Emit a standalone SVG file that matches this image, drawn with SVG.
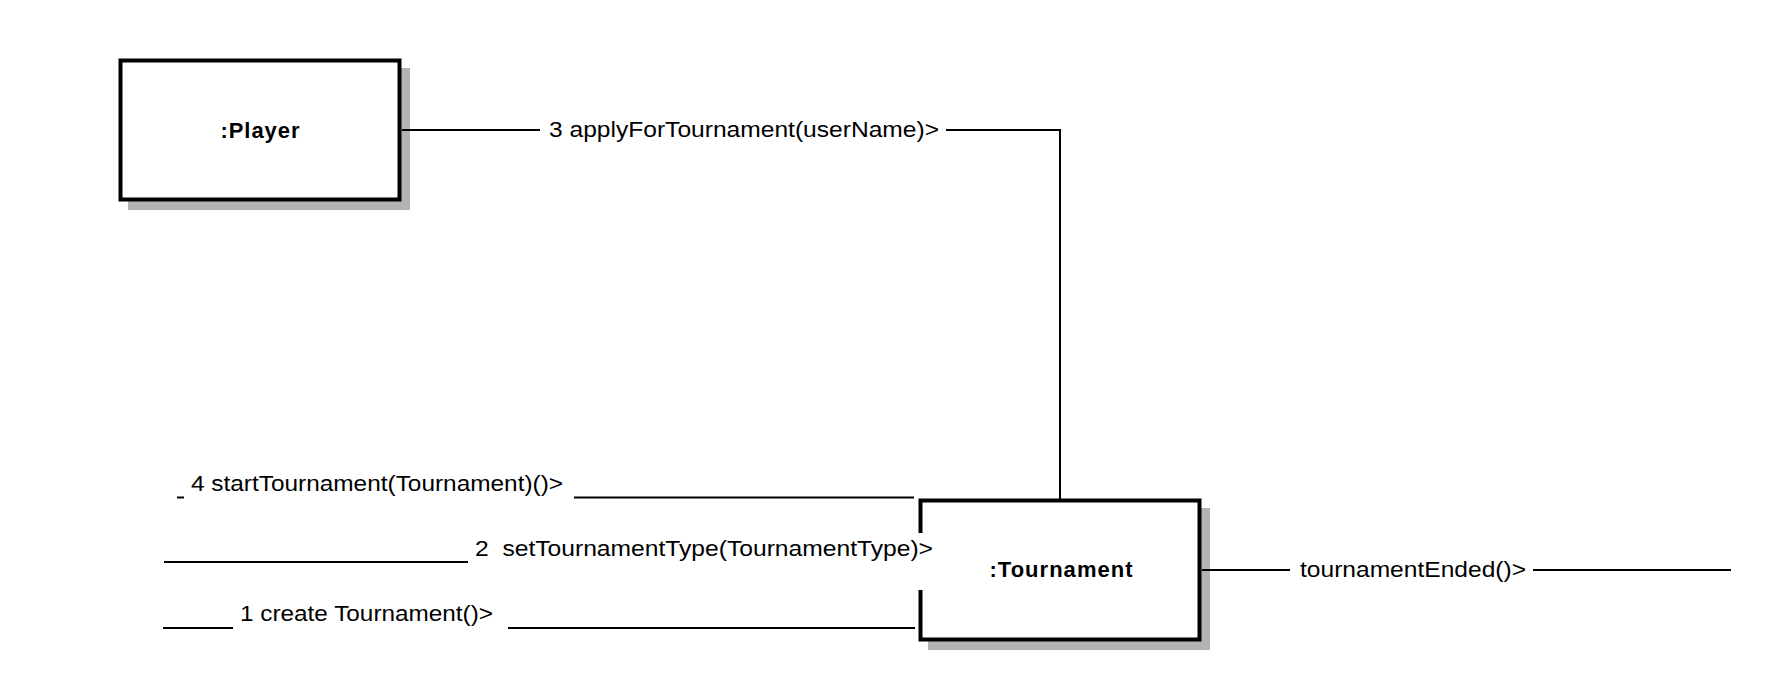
<svg xmlns="http://www.w3.org/2000/svg" width="1780" height="696" viewBox="0 0 1780 696">
<style>
.shadow{fill:#b3b3b3;stroke:none}
.box{fill:#ffffff;stroke:#000000;stroke-width:4}
.border{fill:none;stroke:#000000;stroke-width:4}
.name{font-family:"Liberation Sans",Arial,sans-serif;font-weight:bold;font-size:22px;fill:#000000;text-anchor:middle}
.lbl{font-family:"Liberation Sans",Arial,sans-serif;font-size:22px;fill:#000000}
.conn{fill:none;stroke:#000000;stroke-width:2}
</style>
<rect x="0" y="0" width="1780" height="696" fill="#ffffff"/>
<g id="player">
<rect class="shadow" x="128" y="68" width="282" height="142"/>
<rect class="box" x="120.5" y="60.5" width="279" height="139"/>
<text class="name" x="260" y="138" textLength="79" lengthAdjust="spacing">:Player</text>
</g>
<g id="tournament">
<rect class="shadow" x="928" y="508" width="282" height="142"/>
<rect x="920.5" y="500.5" width="279" height="139" fill="#ffffff"/>
<path class="border" d="M920.5,533 V500.5 H1199.5 V639.5 H920.5 V590"/>
<text class="name" x="1061" y="577" textLength="143" lengthAdjust="spacing">:Tournament</text>
</g>
<g id="connectors">
<line class="conn" x1="402" y1="130" x2="540" y2="130"/>
<polyline class="conn" points="946,130 1060,130 1060,499"/>
<text class="lbl" x="549" y="137" textLength="390" lengthAdjust="spacingAndGlyphs">3 applyForTournament(userName)&gt;</text>
<line class="conn" x1="177" y1="497.5" x2="184" y2="497.5"/>
<text class="lbl" x="191" y="491" textLength="372" lengthAdjust="spacingAndGlyphs">4 startTournament(Tournament)()&gt;</text>
<line class="conn" x1="574" y1="497.5" x2="914" y2="497.5"/>
<line class="conn" x1="164" y1="562" x2="468" y2="562"/>
<text class="lbl" x="475" y="556" textLength="458" lengthAdjust="spacingAndGlyphs" xml:space="preserve">2  setTournamentType(TournamentType)&gt;</text>
<line class="conn" x1="163" y1="628" x2="233" y2="628"/>
<text class="lbl" x="240" y="621" textLength="253" lengthAdjust="spacingAndGlyphs">1 create Tournament()&gt;</text>
<line class="conn" x1="508" y1="628" x2="915" y2="628"/>
<line class="conn" x1="1202" y1="570" x2="1290" y2="570"/>
<text class="lbl" x="1300" y="577" textLength="226" lengthAdjust="spacingAndGlyphs">tournamentEnded()&gt;</text>
<line class="conn" x1="1533" y1="570" x2="1731" y2="570"/>
</g>
</svg>
